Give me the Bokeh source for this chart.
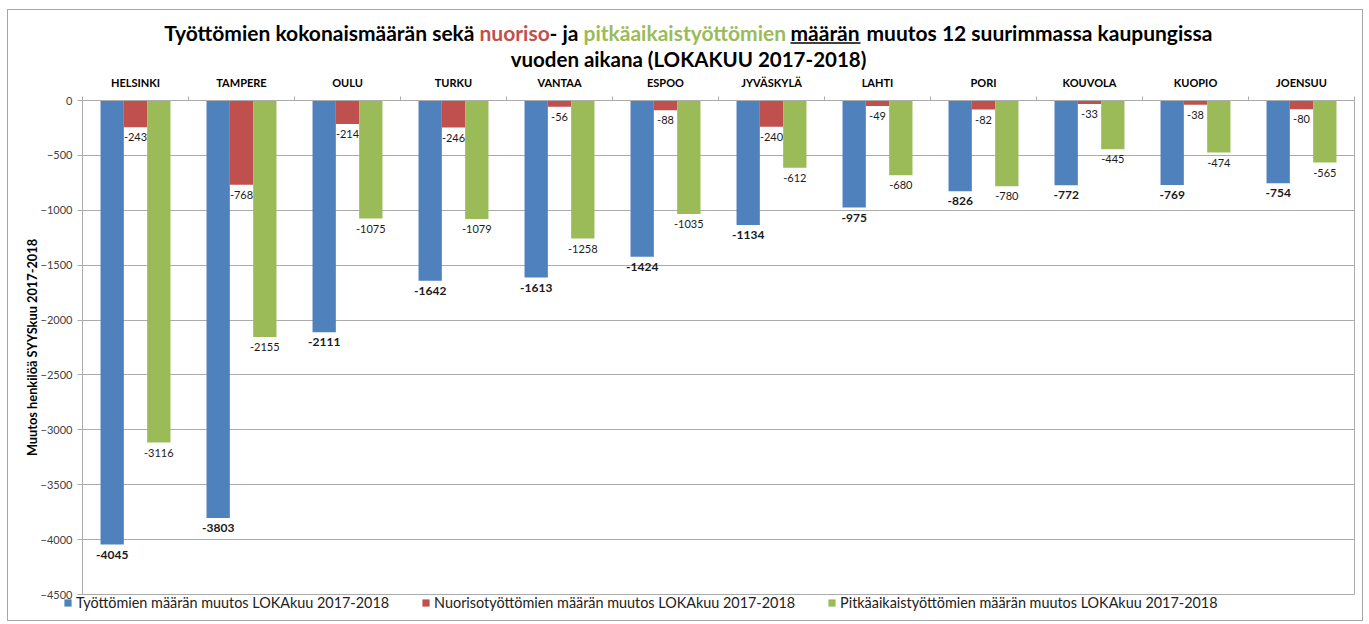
from bokeh.plotting import figure
from bokeh.layouts import column
from bokeh.models import (Range1d, LinearAxis, FixedTicker, Legend, LegendItem,
                          ColumnDataSource)
from bokeh.core.properties import value
from bokeh.embed import file_html
from bokeh.resources import INLINE

cities = ["HELSINKI", "TAMPERE", "OULU", "TURKU", "VANTAA", "ESPOO",
          "JYVÄSKYLÄ", "LAHTI", "PORI", "KOUVOLA", "KUOPIO", "JOENSUU"]
total = [-4045, -3803, -2111, -1642, -1613, -1424, -1134, -975, -826, -772, -769, -754]
youth = [-243, -768, -214, -246, -56, -88, -240, -49, -82, -33, -38, -80]
longterm = [-3116, -2155, -1075, -1079, -1258, -1035, -612, -680, -780, -445, -474, -565]

series_names = ["Työttömien määrän muutos LOKAkuu 2017-2018",
                "Nuorisotyöttömien määrän muutos LOKAkuu 2017-2018",
                "Pitkäaikaistyöttömien määrän muutos LOKAkuu 2017-2018"]
y_ticks = [0, -500, -1000, -1500, -2000, -2500, -3000, -3500, -4000, -4500]

title_parts = ["Työttömien kokonaismäärän sekä", "nuoriso", "- ja",
               "pitkäaikaistyöttömien", "määrän",
               "muutos 12 suurimmassa kaupungissa"]
title_line2 = "vuoden aikana (LOKAKUU 2017-2018)"

FONT = "Lato"
BLUE, RED, GREEN = "#4F81BD", "#C0504D", "#9BBB59"
GRID = "#ababab"

OX, OY = 8, 10          # page position of the chart content
W = 1354
TH = 60                 # title strip height
MH = 534                # main figure height (page y 70..604)
FH = 28                 # legend strip height
FOVER = 12              # legend strip overlaps main figure bottom

# ---------------- title strip ----------------
t = figure(width=W, height=TH, output_backend="svg", toolbar_location=None,
           x_range=Range1d(0, W), y_range=Range1d(TH, 0),
           x_axis_location=None, y_axis_location=None, frame_align=False,
           min_border=0, min_border_left=0, min_border_right=0,
           min_border_top=0, min_border_bottom=0)
t.outline_line_color = None
t.grid.grid_line_color = None
anchors = [474, 479, 549, 583, 790, 866]
aligns = ["right", "left", "left", "left", "left", "left"]
cols = ["black", RED, "black", GREEN, "black", "black"]
tsrc = ColumnDataSource(dict(x=[a - OX for a in anchors],
                             y=[32 - OY] * len(anchors),
                             txt=title_parts, col=cols, al=aligns))
t.text(x="x", y="y", text="txt", text_color="col", text_align="al", source=tsrc,
       text_baseline="middle", text_font=value(FONT),
       text_font_size="21px", text_font_style="bold")
t.text(x=[688 - OX], y=[58 - OY], text=[title_line2], text_align="center",
       text_baseline="middle", text_font=value(FONT), text_font_size="20.5px",
       text_font_style="bold", text_color="black")
t.segment(x0=[790 - OX], x1=[860 - OX], y0=[42.5 - OY], y1=[42.5 - OY],
          line_color="black", line_width=1.5)

# ---------------- main chart ----------------
p = figure(width=W, height=MH, output_backend="svg", toolbar_location=None,
           x_range=Range1d(0, len(cities)), y_range=Range1d(-4500, 0),
           x_axis_location=None, y_axis_location=None, frame_align=False,
           min_border_left=82 - OX, min_border_right=OX + W - 1354,
           min_border_top=100 - (OY + TH),
           min_border_bottom=(OY + TH + MH) - 594)
p.outline_line_color = GRID
p.xgrid.grid_line_color = None

yax = LinearAxis(ticker=FixedTicker(ticks=y_ticks),
                 axis_label="Muutos henkilöä SYYSkuu 2017-2018")
yax.axis_line_color = GRID
yax.major_tick_line_color = GRID
yax.major_tick_out = 5
yax.major_tick_in = 0
yax.minor_tick_line_color = None
yax.major_label_text_font = FONT
yax.major_label_text_font_size = "11px"
yax.major_label_text_color = "#404040"
yax.axis_label_text_font = FONT
yax.axis_label_text_font_size = "12.8px"
yax.axis_label_text_font_style = "bold"
yax.axis_label_text_color = "black"
yax.axis_label_standoff = -2
p.add_layout(yax, "left")
p.ygrid.ticker = FixedTicker(ticks=y_ticks)
p.ygrid.grid_line_color = GRID

centers = [i + 0.5 for i in range(len(cities))]
bounds = list(range(len(cities) + 1))
xax = LinearAxis(ticker=FixedTicker(ticks=centers, minor_ticks=bounds))
xax.major_label_overrides = {c: name for c, name in zip(centers, cities)}
xax.axis_line_color = GRID
xax.major_tick_line_color = None
xax.minor_tick_line_color = GRID
xax.minor_tick_out = 4
xax.minor_tick_in = 0
xax.major_label_standoff = 6
xax.major_label_text_font = FONT
xax.major_label_text_font_size = "11px"
xax.major_label_text_font_style = "bold"
xax.major_label_text_color = "black"
p.add_layout(xax, "above")

bw = 0.22
offs = [-0.22, 0.0, 0.22]
colors = [BLUE, RED, GREEN]
for vals, col, off, style, fs in [(total, BLUE, offs[0], "bold", "12px"),
                                  (youth, RED, offs[1], "normal", "11px"),
                                  (longterm, GREEN, offs[2], "normal", "11px")]:
    xs = [c + off for c in centers]
    src = ColumnDataSource(dict(x=xs, top=[0] * len(vals), bottom=vals,
                                lab=[str(v) for v in vals]))
    p.vbar(x="x", top="top", bottom="bottom", width=bw, source=src,
           fill_color=col, line_color=None)
    p.text(x="x", y="bottom", text="lab", source=src, text_align="center",
           text_baseline="top", y_offset=6, text_font=value(FONT),
           text_font_size=fs, text_font_style=style, text_color="#1a1a1a")

# ---------------- legend strip ----------------
f = figure(width=W, height=FH, output_backend="svg", toolbar_location=None,
           x_range=Range1d(0, 1), y_range=Range1d(0, 1),
           x_axis_location=None, y_axis_location=None, frame_align=False,
           min_border=0, min_border_left=0, min_border_right=0,
           min_border_top=0, min_border_bottom=0,
           styles={"margin-top": f"-{FOVER}px"})
f.outline_line_color = None
f.grid.grid_line_color = None
f.background_fill_alpha = 0
f.border_fill_alpha = 0
# legend swatches (placed outside the strip's visible range)
proxies = [f.vbar(x=[-5], top=[-5], bottom=[-6], width=0.1, fill_color=c,
                  line_color=None) for c in colors]
legend_top_page = 597
legend_h = 14
strip_top_page = OY + TH + MH - FOVER
legend = Legend(items=[LegendItem(label=n, renderers=[r])
                       for n, r in zip(series_names, proxies)],
                orientation="horizontal",
                location=(63 - OX, FH - (legend_top_page - strip_top_page) - legend_h))
legend.label_text_font = FONT
legend.label_text_font_size = "14.4px"
legend.label_text_color = "#222222"
legend.glyph_width = 9
legend.glyph_height = 9
legend.label_standoff = 4
legend.spacing = 32
legend.padding = 0
legend.margin = 0
legend.label_height = legend_h
legend.border_line_color = None
legend.background_fill_alpha = 0
f.add_layout(legend, "center")

layout = column(t, p, f, spacing=0,
                styles={"border": "1px solid #a6a6a6",
                        "margin-left": f"{OX - 1}px", "margin-top": f"{OY - 1}px"})

open("out.html", "w").write(file_html(layout, INLINE))
